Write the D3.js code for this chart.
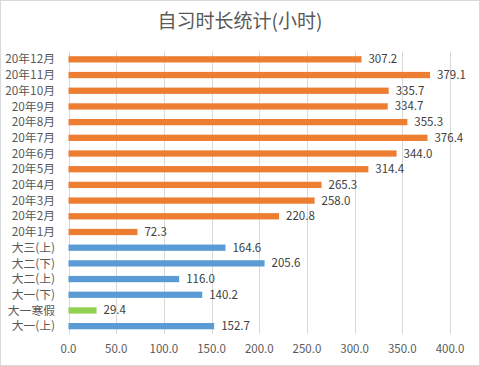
<!DOCTYPE html>
<html>
<head>
<meta charset="utf-8">
<script src="https://cdn.jsdelivr.net/npm/d3@7"></script>
<style>
  body { margin: 0; background: #fff; }
  text { font-family: "Noto Sans CJK SC", "Liberation Sans", sans-serif; }
</style>
</head>
<body>
<svg id="chart" width="480" height="366"></svg>
<script>
// categories top to bottom
var categories = ['20年12月', '20年11月', '20年10月', '20年9月', '20年8月', '20年7月', '20年6月',
                  '20年5月', '20年4月', '20年3月', '20年2月', '20年1月', '大三(上)', '大二(下)',
                  '大二(上)', '大一(下)', '大一寒假', '大一(上)'];
var hours = [307.2, 379.1, 335.7, 334.7, 355.3, 376.4, 344.0, 314.4, 265.3, 258.0, 220.8, 72.3,
             164.6, 205.6, 116.0, 140.2, 29.4, 152.7];
var groups = ['o', 'o', 'o', 'o', 'o', 'o', 'o', 'o', 'o', 'o', 'o', 'o',
              'b', 'b', 'b', 'b', 'g', 'b'];
var xTicks = [0, 50, 100, 150, 200, 250, 300, 350, 400];

var colors = { o: '#ED7D31', b: '#5B9BD5', g: '#92D050' };
var data = categories.map(function(c, i) { return { name: c, value: hours[i], group: groups[i] }; });

var svg = d3.select('#chart');
var margin = { left: 68.5, right: 30, top: 51.5, bottom: 32 };
var width = 480, height = 366;

// outer border
svg.append('rect')
  .attr('x', 0.5).attr('y', 0.5)
  .attr('width', width - 1).attr('height', height - 1)
  .attr('fill', '#fff').attr('stroke', '#D9D9D9');

// title
svg.append('text')
  .attr('x', 240).attr('y', 28)
  .attr('text-anchor', 'middle')
  .attr('font-size', 19)
  .attr('fill', '#595959')
  .text('自习时长统计(小时)');

var x = d3.scaleLinear().domain([0, 400]).range([margin.left, 450]);
var y = d3.scaleBand().domain(categories).range([margin.top, 334]).paddingInner(0.6).paddingOuter(0.3);

// gridlines
svg.append('g')
  .selectAll('line')
  .data(xTicks)
  .enter()
  .append('line')
  .attr('x1', function(d) { return Math.round(x(d)) + 0.5; })
  .attr('x2', function(d) { return Math.round(x(d)) + 0.5; })
  .attr('y1', margin.top).attr('y2', 334)
  .attr('stroke', '#D9D9D9');

// x tick labels
svg.append('g')
  .selectAll('text')
  .data(xTicks)
  .enter()
  .append('text')
  .attr('x', function(d) { return x(d); })
  .attr('y', 353)
  .attr('text-anchor', 'middle')
  .attr('font-size', 11.5)
  .attr('fill', '#595959')
  .text(function(d) { return d.toFixed(1); });

// category labels
svg.append('g')
  .selectAll('text')
  .data(data)
  .enter()
  .append('text')
  .attr('x', 55)
  .attr('y', function(d) { return y(d.name) + y.bandwidth() / 2; })
  .attr('dy', '0.35em')
  .attr('text-anchor', 'end')
  .attr('font-size', 11.8)
  .attr('fill', '#595959')
  .text(function(d) { return d.name; });

// bars
svg.append('g')
  .selectAll('rect')
  .data(data)
  .enter()
  .append('rect')
  .attr('x', x(0))
  .attr('y', function(d) { return y(d.name); })
  .attr('width', function(d) { return x(d.value) - x(0); })
  .attr('height', y.bandwidth())
  .attr('fill', function(d) { return colors[d.group]; });

// value labels
svg.append('g')
  .selectAll('text')
  .data(data)
  .enter()
  .append('text')
  .attr('x', function(d) { return x(d.value) + 7; })
  .attr('y', function(d) { return y(d.name) + y.bandwidth() / 2; })
  .attr('dy', '0.35em')
  .attr('font-size', 11.5)
  .attr('fill', '#404040')
  .text(function(d) { return d.value.toFixed(1); });
</script>
</body>
</html>
